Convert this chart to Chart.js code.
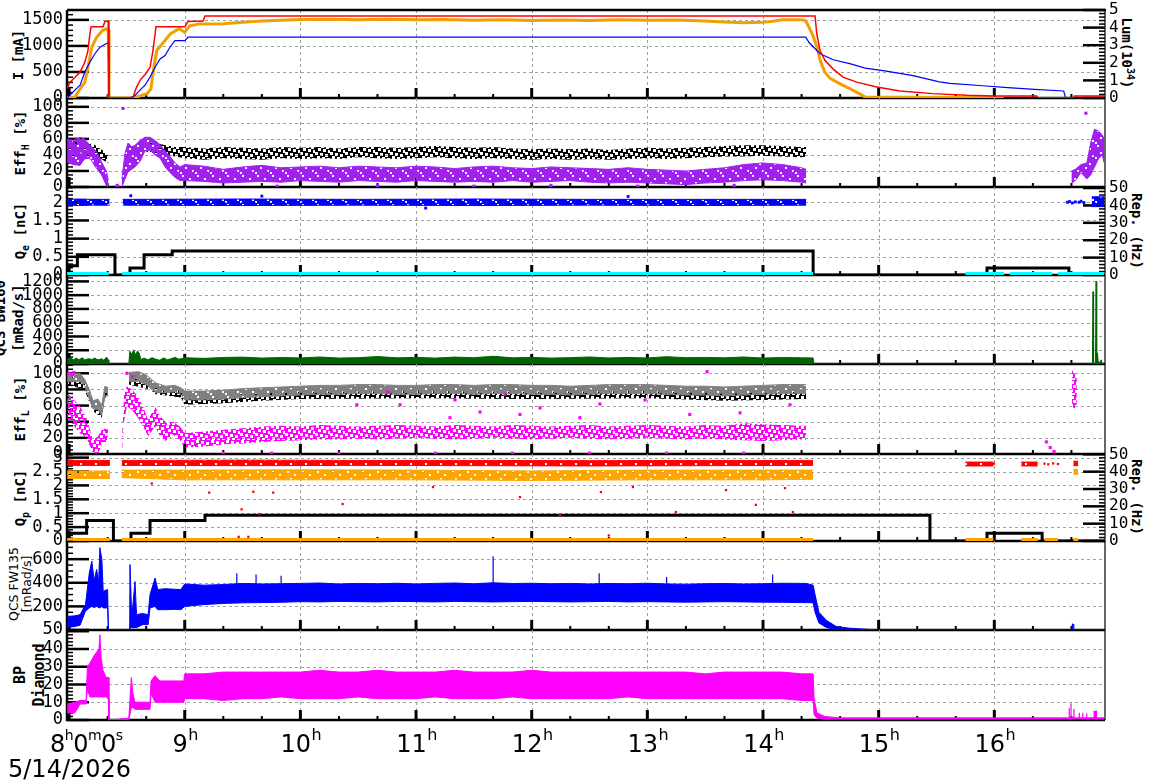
<!DOCTYPE html>
<html>
<head>
<meta charset="utf-8">
<title>SuperKEKB injection summary</title>
<script src="https://cdn.jsdelivr.net/npm/chart.js@4.4.1/dist/chart.umd.min.js"></script>
<style>
html,body{margin:0;padding:0;background:#fff}
body{width:1172px;height:782px;position:relative;overflow:hidden}
canvas{position:absolute;left:0}
.t{position:absolute;white-space:nowrap;font:bold 14px "DejaVu Sans Mono",monospace;color:#000;line-height:1.25;text-align:center;transform:translate(-50%,-50%) rotate(-90deg)}
.t.r{transform:translate(-50%,-50%) rotate(90deg)}
.t sub,.t sup{font-size:10px;line-height:0}
.t.n{font:12.5px "DejaVu Sans",sans-serif;line-height:1.05}
#date{position:absolute;left:8px;top:757px;font:24px "DejaVu Sans",sans-serif;line-height:1;color:#000}
</style>
</head>
<body>
<div class="t" style="left:19px;top:55px">I [mA]</div>
<div class="t r" style="left:1126px;top:53px">Lum(10<sup>34</sup>)</div>
<div class="t" style="left:21px;top:143px">Eff<sub>H</sub> [%]</div>
<div class="t" style="left:21px;top:231px">Q<sub>e</sub> [nC]</div>
<div class="t r" style="left:1136px;top:231px">Rep. (Hz)</div>
<div class="t" style="left:9px;top:318px">QCS BW160<br>[mRad/s]</div>
<div class="t" style="left:21px;top:409px">Eff<sub>L</sub> [%]</div>
<div class="t" style="left:21px;top:498px">Q<sub>p</sub> [nC]</div>
<div class="t r" style="left:1136px;top:497px">Rep. (Hz)</div>
<div class="t n" style="left:20px;top:584px">QCS FW135<br>[mRad/s]</div>
<div class="t" style="left:30px;top:675px;font-size:15px">BP<br>Diamond</div>
<div id="date">5/14/2026</div>
<script>
// ---------------- TICKS ----------------
const hourTicks = [8,9,10,11,12,13,14,15,16];
const ticksI = [0,500,1000,1500];
const ticksLum = [0,1,2,3,4,5];
const ticksEff = [0,20,40,60,80,100];
const ticksQ_e = [0,0.5,1,1.5,2];
const ticksRep = [0,10,20,30,40,50];
const ticksBW = [0,200,400,600,800,1000,1200];
const ticksQ_p = [0,0.5,1,1.5,2,2.5,3];
const ticksFW = [0,200,400,600];
const labelsFW = ["50","200","400","600"];
const ticksBP = [0,10,20,30,40];

// ---------------- DATA (time "H:MM" , values) ----------------
const mainTimes = ["9:00","9:10","9:20","9:30","9:40","9:50","10:00","10:10","10:20","10:30","10:40","10:50","11:00","11:10","11:20","11:30","11:40","11:50","12:00","12:10","12:20","12:30","12:40","12:50","13:00","13:10","13:20","13:30","13:40","13:50","14:00","14:10","14:20"];

// Panel 1 : beam currents [mA] and luminosity [1e34]
const iRed = [["7:58.9",180],["8:00.5",305],["8:03.1",400],["8:05.7",500],["8:08.2",690],["8:09.8",910],["8:10.8",1230],["8:11.4",1370],["8:17.6",1370],["8:18.6",1470],["8:20.3",1480],["8:20.7",0],["8:33.1",0],["8:34.7",180],["8:36.8",340],["8:39.4",450],["8:42",590],["8:43.5",910],["8:45.1",1370],["9:00.1",1370],["9:01.7",1470],["9:09.5",1480],["9:10.5",1575],["14:27",1575],["14:27.9",1230],["14:29.6",910],["14:32.2",720],["14:36.3",560],["14:41.5",400],["14:48.6",305],["14:59",210],["15:11",134],["15:28",84],["15:45.7",52],["16:00",40],["16:22",38],["16:22.5",3],["16:41",3],["16:41.5",40],["16:57",40]];
const iBlue = [["7:58.9",0],["8:03",150],["8:05.7",245],["8:08.2",500],["8:10.8",690],["8:13.4",850],["8:16",975],["8:19.7",1050],["8:20.4",1060],["8:20.7",0],["8:31.6",0],["8:34.2",50],["8:36.8",150],["8:39.4",245],["8:42",400],["8:44.6",590],["8:47.2",750],["8:49.8",815],["8:52.3",975],["8:54.9",1100],["9:00.1",1100],["9:01.7",1170],["14:22.2",1170],["14:23.8",1070],["14:26.3",975],["14:29.6",850],["14:36.4",735],["14:45",660],["14:53",575],["15:04",515],["15:17.8",430],["15:31.5",310],["15:37",280],["15:54",235],["16:07",200],["16:21",166],["16:36",134],["16:37",0],["16:57",0]];
const lumOrange = [["7:58.9",0.02],["8:03",0.05],["8:05",0.4],["8:08.2",0.9],["8:09.8",1.75],["8:11.8",2.9],["8:14.3",3.45],["8:17.3",3.83],["8:19.5",3.93],["8:20.3",3.9],["8:20.7",0],["8:33.5",0],["8:40.5",0.25],["8:42.5",0.53],["8:44",1.75],["8:45.5",2.7],["8:49",3.17],["8:52.5",3.64],["8:57",3.93],["9:00",3.73],["9:02.5",4.1],["9:07.5",4.2],["9:20",4.22],["9:30",4.3],["9:40",4.38],["9:50",4.42],["10:00",4.46],["10:15",4.48],["10:30",4.45],["10:45",4.47],["11:00",4.44],["11:15",4.46],["11:30",4.42],["11:45",4.44],["12:00",4.4],["12:15",4.43],["12:30",4.41],["12:45",4.44],["13:00",4.42],["13:15",4.43],["13:30",4.38],["13:40",4.32],["13:50",4.28],["14:00",4.3],["14:05",4.36],["14:10",4.44],["14:20",4.45],["14:22",4.4],["14:23.5",4.1],["14:25.5",3.65],["14:28",2.9],["14:29.5",2.2],["14:32",1.47],["14:35",1.1],["14:40",0.8],["14:45",0.53],["14:50",0.25],["14:53",0.05],["16:05",0.02]];

// Panel 2 : HER injection efficiency [%]  (time, low, high)
const effHBlackEarly = [["7:59",46,58],["8:04",44,57],["8:09",42,55],["8:13",40,53],["8:16",36,48],["8:18.6",32,44],["8:20.5",30,40],null,["8:40",44,56],["8:45",42,55],["8:50",40,52],["8:55",38,50]];
const effHBlackLo = [36,34,36,35,34,36,35,36,35,37,36,35,36,37,36,35,36,35,34,35,34,35,34,35,36,35,36,37,38,38,39,38,37];
const effHBlackHi = [50,48,50,49,48,50,49,50,48,50,50,49,50,51,50,49,50,48,47,48,47,48,46,48,49,48,49,50,51,52,52,51,50];
const effHBlackLate = [["14:22.4",38,50]];
const effHPurpleEarly = [["7:59",31,60],["8:02",28,58],["8:05.7",27,62],["8:08",35,60],["8:10.8",36,52],["8:14.3",23,44],["8:16.9",15,31],["8:19.5",1,19],["8:20.3",0,8],null,["8:27.4",0,10],["8:29",10,42],["8:30.6",19,55],["8:32.5",22,50],["8:34.2",25,52],["8:36.8",32,58],["8:39.4",45,62],["8:42",46,62],["8:44.6",40,58],["8:47.2",36,53],["8:49.8",25,45],["8:52.3",18,38],["8:55",12,30],["8:57.5",8,25]];
const effHPurpleLo = [8,7,5,6,7,6,8,7,6,8,7,6,8,7,6,7,6,8,6,7,8,6,5,6,5,4,3,5,6,8,9,8,6];
const effHPurpleHi = [28,26,22,25,27,24,25,26,24,26,25,24,26,25,23,25,26,24,23,25,24,23,22,24,22,21,20,22,24,28,30,28,24];
const effHPurpleLate = [["14:22.4",5,22],null,["16:40",5,20],["16:42",8,22],["16:45",18,28],["16:48",10,30],["16:50",15,55],["16:52",25,72],["16:54",35,70],["16:56",40,65],["16:57",30,60]];
const effHPurpleDots = [["8:28",98],["16:47.5",92],["8:25",2],["9:48",1],["10:40",2],["11:30",1],["12:10",2],["12:55",1],["13:45",2]];

// Panel 3 : electron bunch charge [nC] and repetition [Hz]
const qeBlue = [["7:59",1.92,2.08],["8:05",1.91,2.09],["8:12",1.92,2.08],["8:21",1.92,2.08],null,["8:27.8",1.92,2.08],["9:30",1.91,2.09],["10:30",1.92,2.08],["11:30",1.91,2.09],["12:30",1.92,2.08],["13:30",1.91,2.08],["14:22.4",1.92,2.08],null,["16:50.5",1.88,2.15],["16:57",1.88,2.15]];
const qeBlueDots = [["16:38",2.0],["16:39",2.02],["16:40.5",1.98],["16:42",2.01],["16:44",2.0],["16:45",2.03],["16:46.5",1.99],["9:40",2.17],["11:05",1.84],["12:50",2.16],["8:32",2.18]];
const qeRep = [["7:59",5.3],["8:04.3",11.6],["8:23.8",0],["8:31.6",4],["8:38.9",11.6],["8:53.5",13.8],["14:26",0],["15:56.2",4],["16:38.7",0],["16:57",0]];
const qeCyan = [["7:59",0.03],["8:20.6",0.03],null,["8:27.5",0.03],["14:26",0.03],null,["15:45",0.03],["16:05",0.03],null,["16:08",0.03],["16:30",0.03],null,["16:33",0.03],["16:57",0.03]];

// Panel 4 : QCS BW160 dose rate [mRad/s]
const bw160Early = [["7:59",70],["8:01",95],["8:02",60],["8:04",85],["8:05",62],["8:07",90],["8:08",58],["8:10",78],["8:12",64],["8:13",88],["8:15",60],["8:17",76],["8:18",55],["8:19.5",100],["8:20.3",60],["8:20.6",0],["8:31",0],["8:31.5",185],["8:32.5",140],["8:33.5",205],["8:34.5",130],["8:35.5",190],["8:36.5",150],["8:37.2",65],["8:39",85],["8:41",60],["8:43",92],["8:45",70],["8:47",55],["8:49",88],["8:51",62],["8:53",78],["8:55",96],["8:57",70]];
const bw160Main = [90,82,95,100,86,94,88,102,86,92,108,90,96,86,100,92,112,90,96,86,92,102,88,95,88,106,92,96,90,102,86,94,90];
const bw160Late = [["14:26",88],["14:26.5",0],["16:50.9",0],["16:51.2",1050],["16:51.5",0],["16:52.5",0],["16:52.8",1200],["16:53.1",0],["16:53.5",160],["16:54",0],["16:55.5",60],["16:56",0],["16:57",0]];

// Panel 5 : LER injection efficiency [%]
const effLGrayEarly = [["7:59",90,100],["8:05.7",90,100],["8:08.2",84,92],["8:10.8",66,78],["8:12.4",56,66],["8:15",55,68],["8:16.9",48,60],["8:18.6",72,84],["8:20.3",72,82],null,["8:31",90,101],["8:36",90,102],["8:40",86,98],["8:43",80,92],["8:45",76,88],["8:50",76,84],["8:55",77,85],["8:58",74,82]];
const effLGrayLo = [67,67,68,70,71,72,73,74,74,75,75,74,74,75,75,74,75,75,74,74,73,74,75,75,75,74,73,73,72,73,74,75,75];
const effLGrayHi = [78,78,79,81,82,83,84,85,85,86,86,85,85,86,86,85,86,86,85,85,84,85,86,86,86,85,84,84,83,84,85,86,86];
const effLGrayLate = [["14:22.4",75,86]];
const effLBlack = [["7:59",86,94],["8:08",80,88],["8:10.8",62,72],["8:13",52,60],["8:16.9",45,55],["8:18.6",70,78],["8:20",70,76],null,["8:31",86,95],["8:42",80,90],["8:45",74,82],["8:58",70,78],["9:00",61,72],["9:20",63,73],["9:40",66,75],["10:00",68,77],["11:00",69,78],["12:00",68,77],["13:00",69,78],["13:40",66,75],["14:00",67,76],["14:22.4",68,77]];
const effLMagEarly = [["7:59",45,76],["8:05.7",26,59],["8:09",20,45],["8:12.4",1,17],["8:15",0,22],["8:17.6",15,32],["8:20.2",15,30],null,["8:27.4",0,15],["8:28.5",40,75],["8:30",59,84],["8:32.5",55,80],["8:35.7",45,72],["8:38.4",34,59],["8:41",22,42],["8:44.6",34,59],["8:47.2",22,47],["8:50.6",15,38],["8:54",24,40],["8:57.5",17,34]];
const effLMagLo = [8,9,12,13,15,16,17,18,18,19,18,19,20,19,18,19,20,19,18,19,20,19,18,19,20,19,18,19,18,17,16,17,18];
const effLMagHi = [26,28,30,32,34,35,34,36,35,34,35,36,35,34,36,35,34,36,35,34,35,36,34,35,36,35,34,36,35,38,37,36,35];
const effLMagLate = [["14:22.4",18,35],null,["16:40.3",60,104],["16:41.5",55,100],["16:42.8",62,95]];
const effLMagDots = [["8:00",100],["8:01.5",98],["8:02.5",101],["8:30",100],["8:33",96],["10:29.3",61],["10:45.4",77],["10:51.7",61],["11:17.6",45],["11:20.2",67],["11:33.2",52],["11:46.1",74],["11:53.9",49],["12:04.3",57],["12:25",45],["12:35.4",62],["12:58.8",67],["13:22",49],["13:31",102],["13:48.1",51],["14:14",61],["16:27",15],["16:29",8],["16:31",3],["9:20",1],["9:45",1],["10:20",1],["11:10",1],["11:50",1],["12:30",1],["13:10",1],["13:50",1]];

// Panel 6 : positron bunch charge [nC] and repetition [Hz]
const qpRed = [["7:59",2.72,2.9],["8:21.2",2.72,2.9],null,["8:27.3",2.72,2.9],["9:30",2.71,2.91],["10:30",2.72,2.9],["11:30",2.71,2.9],["12:30",2.7,2.89],["13:30",2.71,2.9],["14:26",2.72,2.9],null,["15:45",2.7,2.84],["15:59.5",2.7,2.84],null,["16:14",2.7,2.84],["16:22.5",2.7,2.84],null,["16:41",2.71,2.87],["16:43.5",2.71,2.87]];
const qpOrange = [["7:59",2.25,2.52],["8:21.2",2.25,2.52],null,["8:27.3",2.28,2.55],["9:00",2.2,2.55],["10:00",2.2,2.56],["11:00",2.2,2.55],["12:00",2.18,2.52],["13:00",2.2,2.55],["14:00",2.2,2.55],["14:26",2.22,2.55],null,["16:41",2.4,2.58],["16:43.5",2.4,2.58]];
const qpBase = [["7:59",0.04],["8:21.2",0.04],null,["8:27.3",0.04],["14:26",0.04],null,["15:45",0.04],["15:59.5",0.04],null,["16:14",0.04],["16:22.5",0.04],null,["16:26",0.04],["16:33",0.04],null,["16:41",0.04],["16:43.5",0.04]];
const qpRedDots = [["8:42.9",2.07],["9:12.7",1.74],["9:29.5",1.14],["9:35.6",1.77],["9:38.7",0.97],["9:45.9",1.74],["10:21.9",1.33],["11:08.8",1.94],["11:53.9",1.58],["12:14.6",0.94],["12:35.9",1.76],["12:52.5",1.94],["13:14.8",1.04],["13:40.8",1.83],["13:56.3",1.3],["14:11.4",1.9],["14:15.5",1.04],["9:28",0.15],["9:33",0.15],["12:40",0.2],["15:59.8",2.78],["16:26",2.78],["16:28",2.76],["16:30.5",2.79],["16:33",2.77]];
const qpRep = [["7:59",4.4],["8:09.1",11.9],["8:23",0],["8:32.1",4.4],["8:42",11.9],["9:10.5",14.8],["15:26.6",0],["15:56.2",4.4],["16:24.8",0],["16:57",0]];

// Panel 7 : QCS FW135 dose rate [mRad/s]
const fw135Early = [["7:59",20,115],["8:03",30,120],["8:05.7",40,130],["8:08.5",160,215],["8:10.5",187,485],["8:11.8",200,584],["8:13",190,420],["8:14.3",200,513],["8:15.3",190,400],["8:16",187,698],["8:17",200,598],["8:17.7",187,328],["8:20",187,343],["8:20.4",0,0],["8:31.2",0,0],["8:31.6",20,555],["8:32.5",20,105],["8:34.2",20,411],["8:35",20,130],["8:38",45,140],["8:41",45,130],["8:42",187,300],["8:44.6",200,440],["8:46",172,343],["8:50",172,350],["8:55",175,345],["8:58",172,343]];
const fw135Lo = [200,215,225,230,232,235,240,238,242,240,238,242,240,238,242,240,238,240,242,240,238,240,242,238,240,238,236,238,240,238,236,235,232];
const fw135Hi = [390,380,385,395,390,392,395,398,390,395,392,396,390,395,398,392,400,394,396,392,395,390,394,392,396,390,388,392,394,390,392,396,395];
const fw135Late = [["14:22.4",232,395],["14:26",230,380],["14:27",150,300],["14:29",60,150],["14:33",20,80],["14:38",5,30],["14:45",2,15],["14:55",0,5],["15:00",0,0],["16:57",0,0]];
const fw135Spikes = [["9:27",300,480],["9:37",300,470],["9:50",300,460],["11:40",300,625],["12:35",300,480],["13:10",300,450],["14:05",300,470],["16:40.5",0,55],["16:41.2",0,50]];

// Panel 8 : BP diamond
const bpEarly = [["7:59",4,9],["8:03",4,10],["8:05.7",9,11],["8:08.8",9,11],["8:09.5",17,30],["8:10.8",13,32],["8:13.4",13,37],["8:15.5",13,40],["8:16",13,48],["8:16.6",13,35],["8:17.6",13,28],["8:19.2",13,24],["8:20.3",12,24],["8:20.7",0,0],["8:31",0,1],["8:32.3",7,24],["8:33.1",7,15],["8:34.2",6,10],["8:42",6,10],["8:42.5",15,22],["8:44.6",10,25],["8:47",10,22],["8:55",10,22],["8:59.5",10,22]];
const bpLo = [12,12,11,12,12,13,12,12,12,13,12,12,12,13,12,12,12,13,12,12,12,12,12,13,12,12,12,12,12,12,12,12,11];
const bpHi = [26,26,27,27,27,27,27,28,27,27,28,27,27,27,28,27,27,27,28,27,27,27,27,27,27,27,27,26,27,27,27,27,26];
const bpLate = [["14:22.4",11,26],["14:26",11,26],["14:26.5",3,12],["14:28",1,4],["14:32",0.5,2],["14:40",0.5,1.2],["16:36",0.5,1.2],["16:57",0.5,1.2]];
const bpSpikes = [["16:38.9",0.5,6.6],["16:39.8",0.5,9.4],["16:41.3",0.5,6.2],["16:44.1",0.5,4.1],["16:45.9",0.5,4.1],["16:47.9",0.5,3.8],["16:51.8",0.5,5.2],["16:52.4",0.5,5.2],["16:53",0.5,5.2]];

// ---------------- helpers ----------------
const T = s => { const p = s.split(':'); return +p[0] + (+p[1]) / 60; };
const X_MIN = 7.982, X_MAX = 16.957;
const grid = (lo, hi) => mainTimes.map((t, i) => [t, lo[i], hi[i]]);
const gridOne = v => mainTimes.map((t, i) => [t, v[i]]);
function xy(arr, k) {
  const out = []; let last = X_MIN;
  for (const e of arr) {
    if (e === null) { out.push({x: last + 1e-4, y: null}); continue; }
    last = T(e[0]); out.push({x: last, y: e[k]});
  }
  return out;
}
function spikes(arr) {
  const out = [];
  for (const e of arr) { const x = T(e[0]); out.push({x, y: e[1]}, {x, y: e[2]}, {x: x + 1e-4, y: null}); }
  return out;
}
// speckle fill (style only): a small repeating tile that is solid with a few white holes
const HOLES_FEW = [[2,1],[9,4],[5,8],[12,11],[0,13]];
const HOLES_MANY = [[1,0],[6,1],[11,2],[3,4],[8,5],[13,6],[0,8],[5,9],[10,10],[2,12],[7,13],[12,14]];
function speck(color, holes, size, hs) {
  const c = document.createElement('canvas'); c.width = size; c.height = size;
  const g = c.getContext('2d'); g.fillStyle = color; g.fillRect(0, 0, size, size);
  for (const [x, y] of holes) g.clearRect(x, y, hs, hs);
  return g.createPattern(c, 'repeat');
}
const line = (data, axis, color, w, order, extra) => Object.assign({data, yAxisID: axis, borderColor: color, backgroundColor: color, borderWidth: w, pointRadius: 0, fill: false, tension: 0, spanGaps: false, order}, extra || {});
const band = (arr, axis, color, order, fillStyle, bw) => [
  line(xy(arr, 2), axis, color, bw === undefined ? 1 : bw, order),
  line(xy(arr, 1), axis, color, bw === undefined ? 1 : bw, order, {fill: '-1', backgroundColor: fillStyle || color})
];
const dots = (arr, axis, color, r, order) => line(xy(arr, 1), axis, color, 0, order, {showLine: false, pointRadius: r, pointStyle: 'rect', pointBorderWidth: 0, pointBackgroundColor: color});

const effHBlack = [...effHBlackEarly, ...grid(effHBlackLo, effHBlackHi), ...effHBlackLate];
const effHPurple = [...effHPurpleEarly, ...grid(effHPurpleLo, effHPurpleHi), ...effHPurpleLate];
const bw160 = [...bw160Early, ...gridOne(bw160Main), ...bw160Late];
const effLGray = [...effLGrayEarly, ...grid(effLGrayLo, effLGrayHi), ...effLGrayLate];
const effLMag = [...effLMagEarly, ...grid(effLMagLo, effLMagHi), ...effLMagLate];
const fw135 = [...fw135Early, ...grid(fw135Lo, fw135Hi), ...fw135Late];
const bp = [...bpEarly, ...grid(bpLo, bpHi), ...bpLate];

// ---------------- frame plugin (grid, inner ticks, borders, hour labels) ----------------
const frame = {
  id: 'frame',
  beforeDatasetsDraw(chart, args, o) {
    const c = chart.ctx, a = chart.chartArea, xs = chart.scales.x;
    const L = (x1, y1, x2, y2) => { c.beginPath(); c.moveTo(x1, y1); c.lineTo(x2, y2); c.stroke(); };
    c.save();
    c.strokeStyle = '#a0a0a0'; c.lineWidth = 1; c.setLineDash([3, 3]);
    for (const h of hourTicks) { if (h < 9) continue; const px = Math.round(xs.getPixelForValue(h)) + 0.5; L(px, a.top, px, a.bottom); }
    const ys = chart.scales.y;
    for (const v of o.grid) { if (v <= 0) continue; const py = Math.round(ys.getPixelForValue(v)) + 0.5; if (py > a.top + 1) L(a.left, py, a.right, py); }
    c.setLineDash([]);
    c.strokeStyle = '#000';
    const tickSet = (s, cfg, right) => {
      const [mn, mx, step, minor] = cfg;
      const n = Math.floor((mx - mn) / minor + 1e-6);
      for (let k = 0; k <= n; k++) {
        const v = mn + k * minor;
        const maj = Math.abs(v / step - Math.round(v / step)) < 1e-6;
        const len = maj ? 22 : 6; c.lineWidth = maj ? 2.5 : 1.5;
        const py = s.getPixelForValue(v);
        if (right) L(a.right, py, a.right - len, py); else L(a.left, py, a.left + len, py);
      }
    };
    tickSet(ys, o.yl, false);
    if (o.yr) tickSet(chart.scales.y2, o.yr, true);
    for (let m = 480; m <= 1020; m += 20) {
      const px = xs.getPixelForValue(m / 60);
      if (px < a.left - 1 || px > a.right + 1) continue;
      const hr = m % 60 === 0;
      c.lineWidth = hr ? 3 : 2;
      L(px, a.bottom, px, a.bottom - (hr ? 10 : 4));
    }
    c.lineWidth = 2.5; L(a.left, a.top, a.left, a.bottom + 1); L(a.left - 1, a.bottom, a.right, a.bottom);
    if (o.top) L(a.left, a.top, a.right + 1, a.top);
    c.lineWidth = 1.2; L(a.right, a.top, a.right, a.bottom);
    c.restore();
  },
  afterDraw(chart, args, o) {
    if (!o.hours) return;
    const c = chart.ctx, xs = chart.scales.x, a = chart.chartArea;
    const base = a.bottom + 32, supBase = base - 12;
    const big = '24px "DejaVu Sans"';
    c.save(); c.fillStyle = '#000'; c.textBaseline = 'alphabetic'; c.textAlign = 'left';
    for (const h of hourTicks) {
      const first = h === hourTicks[0];
      const ps = first ? [[String(h), 0], ['h', 1], ['0', 0], ['m', 1], ['0', 0], ['s', 1]] : [[String(h), 0], ['h', 1]];
      const small = first ? '14px "DejaVu Sans"' : '16px "DejaVu Sans"';
      const gap = first ? -0.5 : 0.5;
      let w = 0;
      for (const [s, sup] of ps) { c.font = sup ? small : big; w += c.measureText(s).width + gap; }
      let x = first ? 50 : xs.getPixelForValue(h) - w / 2 + 1;
      for (const [s, sup] of ps) {
        c.font = sup ? small : big;
        c.fillText(s, x, sup ? supBase : base);
        x += c.measureText(s).width + gap;
      }
    }
    c.restore();
  }
};

// ---------------- panels ----------------
const fmtNum = v => String(+(+v).toFixed(2));
const panels = [
  {top: 10, bottom: 98, y: [0, 1690, 500, 100], yt: ticksI, y2: [0, 5, 1, 0.2], y2t: ticksLum, topBorder: true,
   ds: [line(xy(iRed, 1), 'y', '#ff0000', 1.5, 0), line(xy(iBlue, 1), 'y', '#0000ff', 1.2, 1), line(xy(lumOrange, 1), 'y2', '#f0a000', 3, 2)]},
  {top: 98, bottom: 187, y: [0, 111, 20, 5], yt: ticksEff,
   ds: [dots(effHPurpleDots, 'y', '#a020f0', 2.2, 0), ...band(effHPurple, 'y', '#a020f0', 1, speck('#a020f0', HOLES_FEW, 15, 2), 1), ...band(effHBlack, 'y', '#000000', 2, speck('#000000', HOLES_MANY, 15, 3), 0)]},
  {top: 187, bottom: 275, y: [0, 2.42, 0.5, 0.1], yt: ticksQ_e, y2: [0, 50.6, 10, 2], y2t: ticksRep,
   ds: [line(xy(qeCyan, 1), 'y', '#00ffff', 4, 0), line(xy(qeRep, 1), 'y2', '#000000', 3, 1, {stepped: true}), dots(qeBlueDots, 'y', '#0000ff', 2, 2), ...band(qeBlue, 'y', '#0000ff', 3, speck('#0000ff', HOLES_FEW, 15, 2), 1)]},
  {top: 275, bottom: 364, y: [0, 1293, 200, 50], yt: ticksBW,
   ds: [line(xy(bw160, 1), 'y', '#006400', 1, 0, {fill: 'origin'})]},
  {top: 364, bottom: 454, y: [0, 111.5, 20, 5], yt: ticksEff,
   ds: [dots(effLMagDots, 'y', '#ff00ff', 2.2, 0), ...band(effLMag, 'y', '#ff00ff', 1, speck('#ff00ff', HOLES_MANY, 15, 3), 0), ...band(effLGray, 'y', '#808080', 2, speck('#808080', HOLES_FEW, 15, 2), 1), ...band(effLBlack, 'y', '#000000', 3, speck('#000000', HOLES_MANY, 15, 3), 0)]},
  {top: 454, bottom: 541, y: [0, 3.13, 0.5, 0.1], yt: ticksQ_p, y2: [0, 50.2, 10, 2], y2t: ticksRep,
   ds: [dots(qpRedDots, 'y', '#ff0000', 1.6, 0), line(xy(qpBase, 1), 'y', '#ffa500', 4, 1), line(xy(qpRep, 1), 'y2', '#000000', 3, 2, {stepped: true}), ...band(qpRed, 'y', '#ff0000', 3, speck('#ff0000', HOLES_FEW, 15, 2), 1), ...band(qpOrange, 'y', '#ffa500', 4, speck('#ffa500', HOLES_FEW, 15, 2), 1)]},
  {top: 541, bottom: 630, y: [0, 754, 200, 50], yt: ticksFW, labels: labelsFW,
   ds: [line(spikes(fw135Spikes), 'y', '#0000ff', 1.2, 0), ...band(fw135, 'y', '#0000ff', 1)]},
  {top: 630, bottom: 720, y: [0, 50.7, 10, 2], yt: ticksBP,
   ds: [line(spikes(bpSpikes), 'y', '#ff00ff', 1.2, 0), ...band(bp, 'y', '#ff00ff', 1)]}
];

function yScale(cfg, vals, labels, pos) {
  return {
    type: 'linear', position: pos, min: cfg[0], max: cfg[1],
    grid: {display: false, drawTicks: false}, border: {display: false},
    afterBuildTicks: s => { s.ticks = vals.map(v => ({value: v})); },
    ticks: {autoSkip: false, padding: 4, color: '#000',
            font: {family: 'DejaVu Sans Mono', size: pos === 'left' ? 17 : 16},
            callback: (v, i) => labels ? labels[i] : fmtNum(v)},
    afterFit: s => { s.width = 67; s.paddingTop = 0; s.paddingBottom = 0; }
  };
}

const P = 14;
panels.forEach((p, i) => {
  const last = i === panels.length - 1;
  const cv = document.createElement('canvas');
  const ph = p.bottom - p.top;
  const xh = last ? 62 : 0;
  cv.width = 1172; cv.height = ph + P + (last ? xh : P);
  cv.style.top = (p.top - P) + 'px';
  cv.style.width = '1172px'; cv.style.height = cv.height + 'px';
  document.body.insertBefore(cv, document.getElementById('date'));
  const scales = {
    x: {type: 'linear', position: 'bottom', min: X_MIN, max: X_MAX,
        grid: {display: false, drawTicks: false}, border: {display: false},
        afterBuildTicks: s => { s.ticks = hourTicks.map(v => ({value: v})); },
        ticks: {display: false},
        afterFit: s => { s.height = xh; s.paddingLeft = 0; s.paddingRight = 0; }},
    y: yScale(p.y, p.yt, p.labels, 'left')
  };
  if (p.y2) scales.y2 = yScale(p.y2, p.y2t, null, 'right');
  new Chart(cv, {
    type: 'line',
    data: {datasets: p.ds},
    options: {
      responsive: false, maintainAspectRatio: false, animation: false, devicePixelRatio: 1, events: [],
      layout: {padding: {top: P, bottom: last ? 0 : P, left: 0, right: p.y2 ? 0 : 67}},
      scales,
      plugins: {legend: {display: false}, tooltip: {enabled: false},
                frame: {grid: p.yt, yl: p.y, yr: p.y2 || null, top: !!p.topBorder, hours: last}}
    },
    plugins: [frame]
  });
});
</script>
</body>
</html>
